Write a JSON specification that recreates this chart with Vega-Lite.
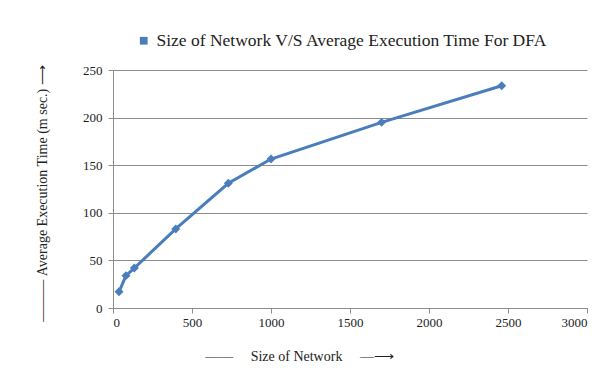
{
  "$schema": "https://vega.github.io/schema/vega-lite/v6.json",
  "width": 474,
  "height": 238,
  "autosize": {"type": "none"},
  "padding": {"left": 113, "top": 70, "right": 25, "bottom": 64},
  "background": "white",
  "data": {
    "values": [
      {"size": 38, "time": 17, "series": "Size of Network V/S Average Execution Time For DFA"},
      {"size": 82, "time": 34, "series": "Size of Network V/S Average Execution Time For DFA"},
      {"size": 135, "time": 42, "series": "Size of Network V/S Average Execution Time For DFA"},
      {"size": 397, "time": 83, "series": "Size of Network V/S Average Execution Time For DFA"},
      {"size": 730, "time": 131, "series": "Size of Network V/S Average Execution Time For DFA"},
      {"size": 1000, "time": 156.5, "series": "Size of Network V/S Average Execution Time For DFA"},
      {"size": 1700, "time": 195, "series": "Size of Network V/S Average Execution Time For DFA"},
      {"size": 2460, "time": 233.5, "series": "Size of Network V/S Average Execution Time For DFA"}
    ]
  },
  "mark": {
    "type": "line",
    "strokeWidth": 3,
    "point": {"shape": "diamond", "size": 80, "filled": true, "opacity": 1}
  },
  "encoding": {
    "x": {
      "field": "size",
      "type": "quantitative",
      "scale": {"domain": [0, 3000], "nice": false},
      "axis": {
        "values": [0, 500, 1000, 1500, 2000, 2500, 3000],
        "format": "d",
        "grid": false,
        "title": "——\u00a0\u00a0\u00a0\u00a0\u00a0Size of Network\u00a0\u00a0\u00a0\u00a0\u00a0—⟶",
        "titleX": 186,
        "titleY": 48,
        "titleAlign": "center",
        "titleBaseline": "middle",
        "labelPadding": 3
      }
    },
    "y": {
      "field": "time",
      "type": "quantitative",
      "scale": {"domain": [0, 250], "nice": false},
      "axis": {
        "values": [0, 50, 100, 150, 200, 250],
        "format": "d",
        "grid": true,
        "title": "———\u00a0Average Execution Time (m sec.)\u00a0⟶",
        "titleX": -71,
        "titleY": 123,
        "titleAngle": 270,
        "titleAlign": "center",
        "titleBaseline": "middle",
        "labelPadding": 6
      }
    },
    "color": {
      "field": "series",
      "type": "nominal",
      "scale": {"range": ["#4a7ebb"]},
      "legend": {
        "title": null,
        "orient": "none",
        "legendX": 22,
        "legendY": -38,
        "symbolType": "square",
        "symbolSize": 60,
        "symbolFillColor": "#3d649a",
        "symbolStrokeWidth": 0,
        "labelFont": "Liberation Serif",
        "labelFontSize": 17.5,
        "labelLimit": 0,
        "labelColor": "#222222"
      }
    }
  },
  "config": {
    "view": {"stroke": null},
    "axis": {
      "labelFont": "Liberation Serif",
      "labelFontSize": 13,
      "labelColor": "#222222",
      "titleFont": "Liberation Serif",
      "titleFontSize": 14,
      "titleFontWeight": "normal",
      "titleColor": "#222222",
      "domainColor": "#8c8c8c",
      "tickColor": "#8c8c8c",
      "gridColor": "#8c8c8c",
      "gridWidth": 1,
      "tickSize": 5
    }
  }
}
